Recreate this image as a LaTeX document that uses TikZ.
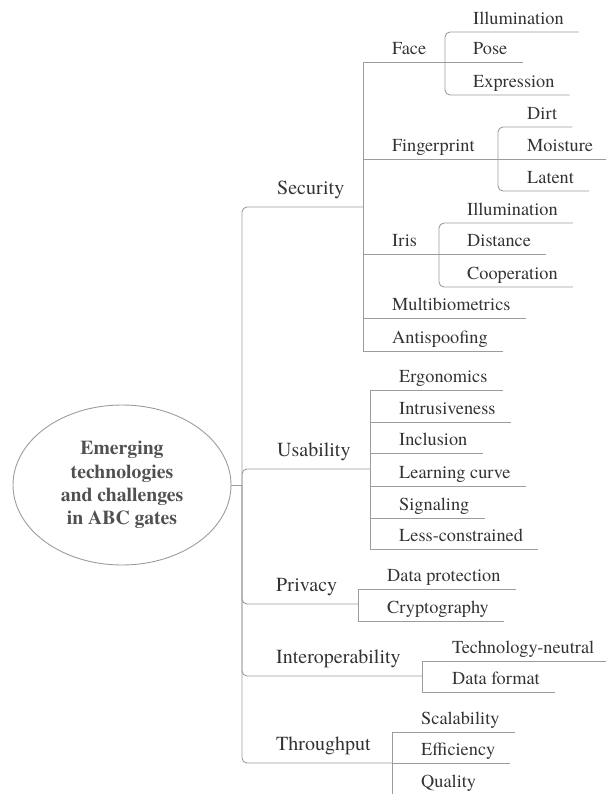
\documentclass[tikz,border=0pt]{standalone}
\usepackage{fontspec}
\newfontfamily\timesfont{texgyretermes}[Extension=.otf, UprightFont=*-regular, BoldFont=*-bold, Ligatures=TeX]
\usetikzlibrary{shapes.geometric}

\definecolor{inkgray}{HTML}{333333}
\definecolor{rootgray}{HTML}{505050}
\definecolor{wiregray}{HTML}{9C9C9C}

\tikzset{
	wire/.style={draw=wiregray, line width=0.9pt},
	softwire/.style={wire, rounded corners=5pt},
	main/.style={anchor=south west, inner sep=0pt, text depth=12pt, text=inkgray, font=\timesfont\fontsize{20}{24}\selectfont},
	sub/.style={anchor=south west, inner sep=0pt, text depth=7pt, text=inkgray, font=\timesfont\fontsize{18.3}{22}\selectfont},
	root/.style={ellipse, draw=wiregray, line width=0.9pt, minimum width=218pt, minimum height=160pt, inner sep=0pt, align=center, text=rootgray, font=\timesfont\fontsize{19.7}{23.3}\selectfont\bfseries}
}

\begin{document}
\begin{tikzpicture}[x=1pt, y=-1pt]
		\useasboundingbox (0,0) rectangle (606,794);
		\clip (0,0) rectangle (606,794);

		% centre and trunk
		\node[root] (abc) at (122,485) {Emerging\\technologies\\and challenges\\in ABC gates};
		\coordinate (trunk) at (242,485);
		\draw[wire] (abc.east) -- (trunk);

		% main branches
		\node[main] (sec) at (277,207) {Security};
		\node[main] (usa) at (277,469) {Usability};
		\node[main] (pri) at (276,604) {Privacy};
		\node[main] (int) at (276,676) {Interoperability};
		\node[main] (thr) at (276,763) {Throughput};
		\coordinate (sec-j) at (363,207);
		\coordinate (usa-j) at (370,469);
		\coordinate (pri-j) at (358,604);
		\coordinate (int-j) at (422,676);
		\coordinate (thr-j) at (392,763);
		\foreach \n in {sec,usa,pri,int,thr}
			\draw[softwire] (trunk) |- (\n-j);

		% security
		\node[sub] (face) at (392,62) {Face};
		\node[sub] (fing) at (392,159) {Fingerprint};
		\node[sub] (iris) at (392,254) {Iris};
		\node[sub] (mbio) at (392,318) {Multibiometrics};
		\node[sub] (spoof) at (392,351) {Antispoofing};
		\coordinate (face-j) at (445,62);
		\coordinate (fing-j) at (498,159);
		\coordinate (iris-j) at (439,254);
		\foreach \n in {face,fing,iris}
			\draw[wire] (sec-j) |- (\n-j);
		\foreach \n in {mbio,spoof}
			\draw[wire] (sec-j) |- ([xshift=15pt]\n.south east);

		% face, fingerprint, iris
		\foreach \n/\x/\y/\t in {face1/473/32/Illumination, face3/473/95/Expression,
				fing1/527/127/Dirt, fing3/527/191/Latent,
				iris1/467/223/Illumination, iris3/467/287/Cooperation}
			\node[sub] (\n) at (\x,\y) {\t};
		\node[sub] (face2) at (473,62) {Pose};
		\node[sub] (fing2) at (527,159) {Moisture};
		\node[sub] (iris2) at (467,254) {Distance};
		\foreach \p in {face,fing,iris} {
			\draw[softwire] ([xshift=15pt]\p1.south east) -| (\p-j) |- ([xshift=15pt]\p3.south east);
			\draw[wire] (\p-j) -- ([xshift=15pt]\p2.south east);
		}

		% usability
		\foreach \n/\y/\t in {usa1/390/Ergonomics, usa2/422/Intrusiveness, usa3/453/Inclusion,
				usa4/486/Learning curve, usa5/518/Signaling, usa6/549/Less-constrained} {
			\node[sub] (\n) at (399,\y) {\t};
			\draw[wire] (usa-j) |- ([xshift=15pt]\n.south east);
		}

		% privacy
		\foreach \n/\y/\t in {pri1/589/Data protection, pri2/621/Cryptography} {
			\node[sub] (\n) at (387,\y) {\t};
			\draw[wire] (pri-j) |- ([xshift=15pt]\n.south east);
		}

		% interoperability
		\foreach \n/\y/\t in {int1/661/Technology-neutral, int2/692/Data format} {
			\node[sub] (\n) at (452,\y) {\t};
			\draw[wire] (int-j) |- ([xshift=15pt]\n.south east);
		}

		% throughput
		\foreach \n/\y/\t in {thr1/732/Scalability, thr2/763/Efficiency, thr3/795/Quality} {
			\node[sub] (\n) at (421,\y) {\t};
			\draw[wire] (thr-j) |- ([xshift=15pt]\n.south east);
		}
	\end{tikzpicture}
\end{document}
